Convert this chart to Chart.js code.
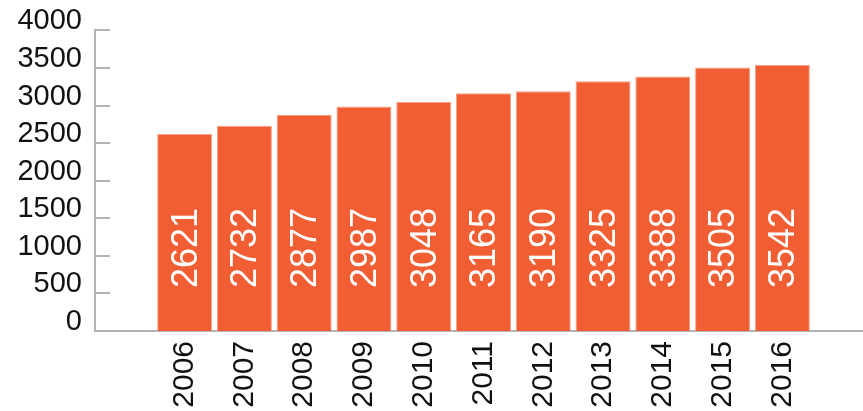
<!DOCTYPE html>
<html>
<head>
<meta charset="utf-8">
<script src="https://cdn.jsdelivr.net/npm/chart.js@4/dist/chart.umd.min.js"></script>
<style>
  html, body {
    margin: 0;
    padding: 0;
    background: #fff;
    overflow: hidden;
  }
  .wrap {
    position: relative;
    width: 872px;
    height: 411px;
  }
</style>
</head>
<body>
<div class="wrap">
  <canvas id="yearly"></canvas>
</div>

<script>
  // yearly totals
  var years = ['2006', '2007', '2008', '2009', '2010', '2011', '2012', '2013', '2014', '2015', '2016'];
  var totals = [2621, 2732, 2877, 2987, 3048, 3165, 3190, 3325, 3388, 3505, 3542];
  var yTicks = [0, 500, 1000, 1500, 2000, 2500, 3000, 3500, 4000];

  // empty slot on each side of the years
  var labels = [''].concat(years, ['']);
  var values = [null].concat(totals, [null]);

  var barColor = '#f25e33';
  var axisColor = '#b3b3b3';
  var fontFamily = "'Liberation Sans', Arial, Helvetica, sans-serif";

  // short tick marks on the inside of the y axis
  var innerTicks = {
    id: 'innerTicks',
    afterDraw: (chart) => {
      var ctx = chart.ctx;
      var y = chart.scales.y;
      var left = chart.chartArea.left;
      ctx.save();
      ctx.strokeStyle = axisColor;
      ctx.lineWidth = 2;
      yTicks.forEach((v) => {
        var py = Math.round(y.getPixelForValue(v));
        ctx.beginPath();
        ctx.moveTo(left, py);
        ctx.lineTo(left + 15, py);
        ctx.stroke();
      });
      ctx.restore();
    }
  };

  // values written upward inside each bar
  var barValues = {
    id: 'barValues',
    afterDatasetsDraw: (chart) => {
      var ctx = chart.ctx;
      var base = chart.scales.y.getPixelForValue(0);
      var meta = chart.getDatasetMeta(0);
      ctx.save();
      ctx.fillStyle = '#ffffff';
      ctx.font = '36px ' + fontFamily;
      ctx.textAlign = 'left';
      ctx.textBaseline = 'middle';
      meta.data.forEach((bar, i) => {
        var v = values[i];
        if (v === null) return;
        ctx.save();
        ctx.translate(bar.x + 2, base - 43);
        ctx.rotate(-Math.PI / 2);
        ctx.fillText(String(v), 0, 0);
        ctx.restore();
      });
      ctx.restore();
    }
  };

  new Chart(document.getElementById('yearly'), {
    type: 'bar',
    data: {
      labels: labels,
      datasets: [{
        data: values,
        backgroundColor: barColor,
        borderColor: '#f7a287',
        borderWidth: 1,
        categoryPercentage: 1,
        barPercentage: 0.92
      }]
    },
    options: {
      responsive: true,
      maintainAspectRatio: false,
      animation: false,
      layout: {
        padding: { top: 30, left: 0, right: 0, bottom: 0 }
      },
      plugins: {
        legend: { display: false },
        tooltip: { enabled: false }
      },
      scales: {
        x: {
          grid: { display: false, drawTicks: false },
          border: { display: true, color: axisColor, width: 2 },
          ticks: {
            color: '#111',
            font: { family: fontFamily, size: 30 },
            minRotation: 90,
            maxRotation: 90,
            padding: 10,
            autoSkip: false
          },
          afterFit: (scale) => {
            scale.height = 80;
            scale.paddingLeft = 0;
            scale.paddingRight = 0;
          }
        },
        y: {
          min: 0,
          max: 4000,
          grid: { display: false, drawTicks: false },
          border: { display: true, color: axisColor, width: 2 },
          ticks: {
            stepSize: 500,
            autoSkip: false,
            color: '#111',
            font: { family: fontFamily, size: 29 },
            padding: 13,
            labelOffset: -9,
            callback: (v) => String(v)
          },
          afterFit: (scale) => { scale.width = 95; }
        }
      }
    },
    plugins: [innerTicks, barValues]
  });
</script>
</body>
</html>
